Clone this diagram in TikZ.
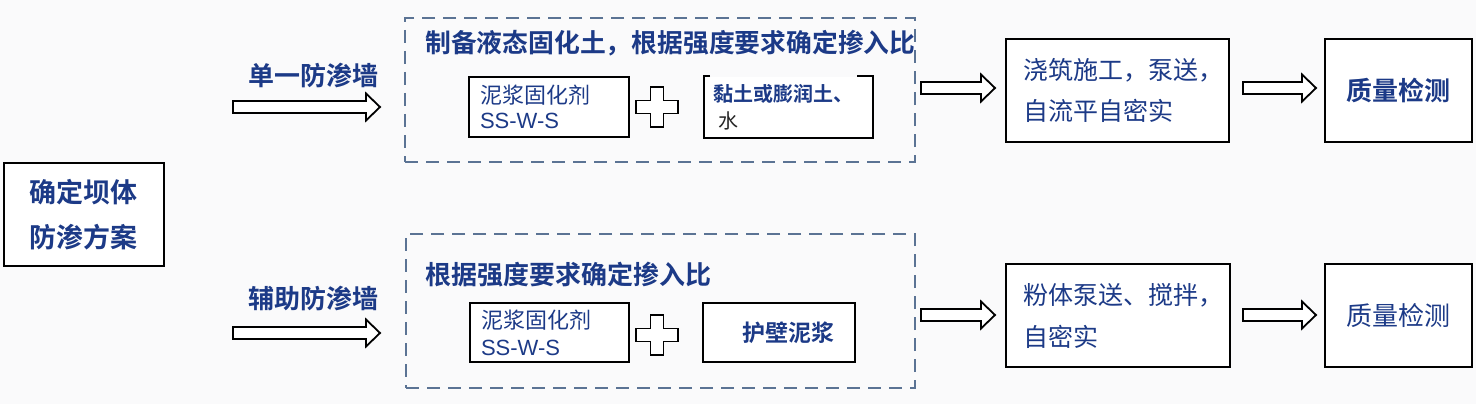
\documentclass[tikz,border=0pt]{standalone}
\usepackage{fontspec}
\setmainfont{Noto Sans CJK SC}[BoldFont={Noto Sans CJK SC Bold}]
\newfontfamily\latin{Liberation Sans}
\definecolor{navy}{RGB}{28,58,135}
\definecolor{dashcol}{RGB}{91,115,148}
\definecolor{bgcol}{RGB}{250,250,251}
\tikzset{
  pics/fatarrow/.style={code={
    \draw[line width=1.8pt,fill=white,line join=miter] (0,-6) -- (#1-14,-6) -- (#1-14,-13.5) -- (#1,0) -- (#1-14,13.5) -- (#1-14,6) -- (0,6) -- cycle;}},
  pics/plussign/.style={code={
    \draw[line width=1.8pt,fill=white] (-6.5,-20) -- (6.5,-20) -- (6.5,-6.5) -- (21,-6.5) -- (21,6.5) -- (6.5,6.5) -- (6.5,20) -- (-6.5,20) -- (-6.5,6.5) -- (-21,6.5) -- (-21,-6.5) -- (-6.5,-6.5) -- cycle;}}
}
\begin{document}
\begin{tikzpicture}[x=1pt,y=-1pt,
  bigbox/.style={draw,line width=2.7pt,fill=white,inner sep=0pt,text=navy},
  smallbox/.style={draw,line width=1.7pt,fill=white,inner sep=0pt,text=navy},
  dashbox/.style={draw=dashcol,line width=2.6pt,dash pattern=on 13pt off 8pt,inner sep=0pt},
  lbl/.style={text=navy,font=\bfseries\fontsize{26}{30}\selectfont,inner sep=0pt}]
\fill[bgcol] (0,0) rectangle (1476,404);
\useasboundingbox (0,0) rectangle (1476,404);

\node[bigbox,minimum width=160,minimum height=103,align=center,font=\bfseries\fontsize{27}{45}\selectfont] (plan) at (84,214.5) {确定坝体\\防渗方案};

\node[lbl] (single) at (313,75) {单一防渗墙};
\node[lbl] (aux) at (313,298) {辅助防渗墙};
\pic at (233,107) {fatarrow=147};
\pic at (233,333) {fatarrow=147};

\node[dashbox,minimum width=510,minimum height=144] (mixA) at (660,90) {};
\node[dashbox,minimum width=509,minimum height=154] (mixB) at (660.5,311) {};
\node[lbl,anchor=west,font=\bfseries\fontsize{25.8}{30}\selectfont] (titleA) at (425,43) {制备液态固化土，根据强度要求确定掺入比};
\node[lbl,anchor=west] (titleB) at (425,275) {根据强度要求确定掺入比};

\node[smallbox,minimum width=160,minimum height=60,text width=138,inner xsep=11pt,align=left,font=\fontsize{22}{25}\selectfont] (agentA) at (549,107) {泥浆固化剂\\{\latin SS-W-S}};
\pic at (657,107) {plussign};
\node[smallbox,draw=none,minimum width=167,minimum height=60,text width=151,inner xsep=8pt,align=left,font=\fontsize{20}{27}\selectfont] (clay) at (788.5,107) {{\bfseries 黏土或膨润土、}\\\hspace*{5pt}{\color{black!85}水}};
\draw[line width=1.7pt] ([xshift=6pt]clay.north west) -- (clay.north west) -- (clay.south west) -- (clay.south east) -- (clay.north east) -- ([xshift=-16pt]clay.north east);

\node[smallbox,minimum width=159,minimum height=59,text width=137,inner xsep=11pt,align=left,font=\fontsize{22}{27}\selectfont] (agentB) at (549.5,332.5) {泥浆固化剂\\{\latin SS-W-S}};
\pic at (657,335) {plussign};
\node[smallbox,minimum width=152,minimum height=59,font=\bfseries\fontsize{23}{27}\selectfont] (slurry) at (779,332.5) {\hspace*{18pt}护壁泥浆};

\pic at (921,88) {fatarrow=74};
\pic at (921,315) {fatarrow=74};

\node[bigbox,minimum width=223,minimum height=103,text width=189,inner xsep=17pt,align=left,font=\fontsize{25}{41}\selectfont] (pour) at (1117.5,90.5) {浇筑施工，泵送，\\自流平自密实};
\node[bigbox,minimum width=224,minimum height=103,text width=190,inner xsep=17pt,align=left,font=\fontsize{25}{42}\selectfont] (pump) at (1118,315.5) {粉体泵送、搅拌，\\自密实};

\pic at (1243,88) {fatarrow=73};
\pic at (1243,315) {fatarrow=73};

\node[bigbox,minimum width=147,minimum height=103,font=\bfseries\fontsize{26}{30}\selectfont] (checkA) at (1398.5,90.5) {质量检测};
\node[bigbox,minimum width=147,minimum height=103,font=\fontsize{26}{30}\selectfont] (checkB) at (1398.5,315.5) {质量检测};
\end{tikzpicture}
\end{document}
